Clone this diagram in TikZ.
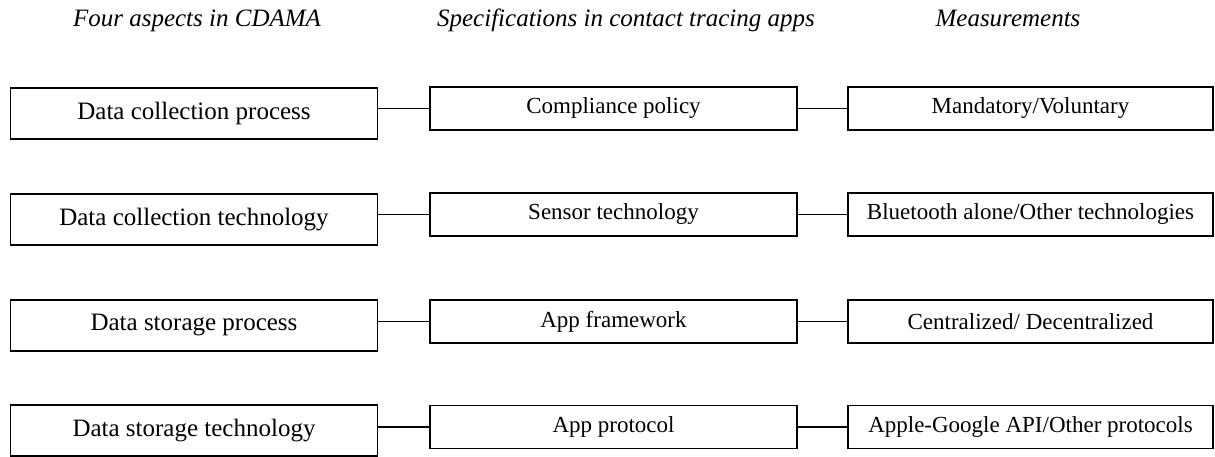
\documentclass[tikz,border=0pt]{standalone}
\usepackage{fontspec}
\setmainfont{Liberation Serif}
\begin{document}
\begin{tikzpicture}[x=1pt,y=-1pt,
  aspectbox/.style={draw, line width=1.4pt, minimum width=367pt, minimum height=51pt, inner sep=0pt, font=\fontsize{25}{30}\selectfont},
  specbox/.style={draw, line width=1.4pt, minimum width=367pt, minimum height=43pt, inner sep=0pt, font=\fontsize{23}{28}\selectfont},
  measbox/.style={draw, line width=1.4pt, minimum width=365pt, minimum height=43pt, inner sep=0pt, font=\fontsize{23}{28}\selectfont},
  header/.style={anchor=base, inner sep=0pt, font=\fontsize{25}{30}\selectfont\itshape},
  link/.style={line width=1.4pt}]
\useasboundingbox (0,0) rectangle (1215,457);
\node[header] (h1) at (197,27) {Four aspects in CDAMA};
\node[header] (h2) at (626,27) {Specifications in contact tracing apps};
\node[header] (h3) at (1008,27) {Measurements};
% row 1
\node[aspectbox] (a1) at (194,113.5) {Data collection process};
\node[specbox] (s1) at (613.5,108.5) {Compliance policy};
\node[measbox] (m1) at (1030.5,108.5) {Mandatory/Voluntary};
% row 2
\node[aspectbox] (a2) at (194,219.5) {Data collection technology};
\node[specbox] (s2) at (613.5,214.5) {Sensor technology};
\node[measbox] (m2) at (1030.5,214.5) {Bluetooth alone/Other technologies};
% row 3
\node[aspectbox] (a3) at (194,325.5) {Data storage process};
\node[specbox] (s3) at (613.5,321.5) {App framework};
\node[measbox] (m3) at (1030.5,321.5) {Centralized/ Decentralized};
% row 4
\node[aspectbox] (a4) at (194,430.5) {Data storage technology};
\node[specbox] (s4) at (613.5,427) {App protocol};
\node[measbox] (m4) at (1030.5,427) {Apple-Google API/Other protocols};
\foreach \i in {1,2,3,4}{
  \draw[link] (a\i.east |- s\i.west) -- (s\i.west);
  \draw[link] (s\i.east) -- (m\i.west);
}
\end{tikzpicture}
\end{document}
